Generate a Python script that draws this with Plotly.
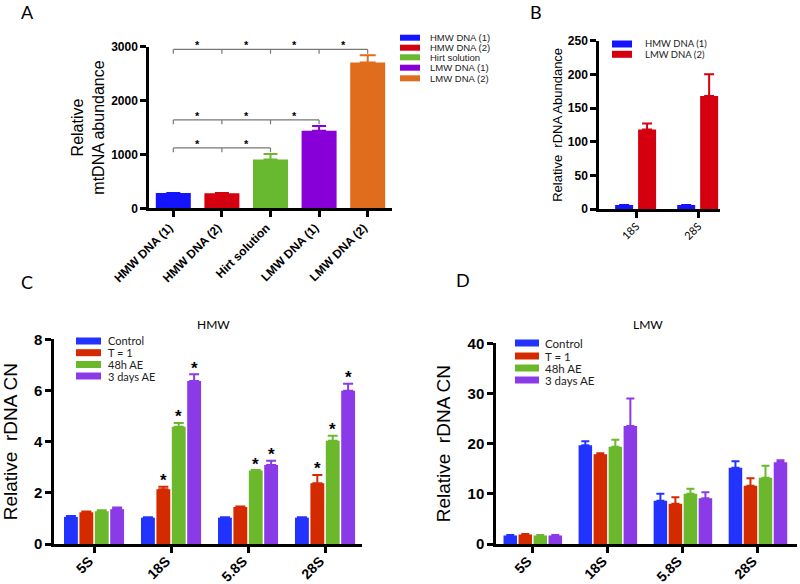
import plotly.graph_objects as go

W, H = 800, 584


def px(x):
    return x / W


def py(y):
    return 1 - y / H


# ---------------- Data ----------------
# Panel A
a_categories = ["HMW DNA (1)", "HMW DNA (2)", "Hirt solution", "LMW DNA (1)", "LMW DNA (2)"]
a_values = [285, 280, 908, 1440, 2708]
a_errors = [0, 5, 100, 87, 135]
a_colors = ["#1414ff", "#d4000f", "#68b830", "#8800d8", "#e06c1e"]
a_bracket_levels = [1120, 1640, 2950]
a_bracket_last = [2, 3, 4]

# Panel B
b_categories = ["18S", "28S"]
b_series = ["HMW DNA (1)", "LMW DNA (2)"]
b_hmw = [6, 6]
b_hmw_err = [0, 0]
b_lmw = [118, 168]
b_lmw_err = [9, 32]
b_colors = ["#1414ff", "#d4000f"]

# Panels C and D
cd_categories = ["5S", "18S", "5.8S", "28S"]
cd_series = ["Control", "T = 1", "48h AE", "3 days AE"]
cd_colors = ["#2233ff", "#d42a00", "#6cb82c", "#8a3ae6"]

c_control = [1.06, 1.03, 1.03, 1.03]
c_control_err = [0.03, 0.02, 0.02, 0.02]
c_t1 = [1.24, 2.14, 1.45, 2.37]
c_t1_err = [0.03, 0.10, 0.02, 0.33]
c_48h = [1.28, 4.58, 2.87, 4.04]
c_48h_err = [0.04, 0.15, 0.02, 0.19]
c_3d = [1.36, 6.37, 3.09, 5.99]
c_3d_err = [0.07, 0.26, 0.16, 0.27]
c_sig_control = [0, 0, 0, 0]
c_sig_t1 = [0, 1, 0, 1]
c_sig_48h = [0, 1, 1, 1]
c_sig_3d = [0, 1, 1, 1]

d_control = [1.7, 19.7, 8.6, 15.2]
d_control_err = [0.1, 0.8, 1.4, 1.3]
d_t1 = [1.9, 17.9, 8.0, 11.6]
d_t1_err = [0.1, 0.2, 1.3, 1.5]
d_48h = [1.7, 19.4, 10.0, 13.2]
d_48h_err = [0.1, 1.4, 1.0, 2.4]
d_3d = [1.7, 23.5, 9.1, 16.3]
d_3d_err = [0.1, 5.5, 1.2, 0.4]

# ---------------- Figure ----------------
fig = go.Figure()

SANS = "Liberation Sans, Arial"
GILL = "Lato, Noto Sans"
BOLD = dict(family=SANS, color="black", weight="bold")


def err(arr, color, width, thick=2):
    return dict(type="data", array=arr, arrayminus=[0] * len(arr), symmetric=False,
                color=color, thickness=thick, width=width, visible=True)


# A : one trace per bar (own colour + own error-bar colour), sharing one offset group
for i, c in enumerate(a_categories):
    fig.add_trace(go.Bar(x=[c], y=[a_values[i]], name=c, offsetgroup="a",
                         marker=dict(color=a_colors[i], line=dict(width=0)), width=0.72,
                         error_y=err([a_errors[i]], a_colors[i], 8 if i == 4 else 7),
                         xaxis="x", yaxis="y", showlegend=False))

# B
fig.add_trace(go.Bar(x=b_categories, y=b_hmw, name=b_series[0], marker=dict(color=b_colors[0], line=dict(width=0)),
                     width=0.29, offset=-0.34, error_y=err(b_hmw_err, b_colors[0], 5),
                     xaxis="x2", yaxis="y2", showlegend=False))
fig.add_trace(go.Bar(x=b_categories, y=b_lmw, name=b_series[1], marker=dict(color=b_colors[1], line=dict(width=0)),
                     width=0.29, offset=0.03, error_y=err(b_lmw_err, b_colors[1], 5),
                     xaxis="x2", yaxis="y2", showlegend=False))

# C
c_vals = [c_control, c_t1, c_48h, c_3d]
c_errs = [c_control_err, c_t1_err, c_48h_err, c_3d_err]
c_sigs = [c_sig_control, c_sig_t1, c_sig_48h, c_sig_3d]
for k in range(4):
    fig.add_trace(go.Bar(x=cd_categories, y=c_vals[k], name=cd_series[k],
                         marker=dict(color=cd_colors[k], line=dict(width=0)), width=0.18,
                         error_y=err(c_errs[k], cd_colors[k], 5),
                         xaxis="x3", yaxis="y3", showlegend=False))

# D
d_vals = [d_control, d_t1, d_48h, d_3d]
d_errs = [d_control_err, d_t1_err, d_48h_err, d_3d_err]
for k in range(4):
    fig.add_trace(go.Bar(x=cd_categories, y=d_vals[k], name=cd_series[k],
                         marker=dict(color=cd_colors[k], line=dict(width=0)), width=0.18,
                         error_y=err(d_errs[k], cd_colors[k], 4),
                         xaxis="x4", yaxis="y4", showlegend=False))


# ---------------- Axes ----------------
def xax(domain, rng, tickfont, anchor, standoff=0, shift=0):
    return dict(domain=domain, range=rng, anchor=anchor, showline=True, linecolor="black", linewidth=2.5,
                ticks="outside", ticklen=6, tickwidth=2.5, tickcolor="black", tickangle=-45,
                tickfont=tickfont, showgrid=False, zeroline=False, fixedrange=True, type="category",
                automargin=False, ticklabelstandoff=standoff, ticklabelshift=shift)


def yax(domain, rng, dtick, tickfont, anchor, title, tsize, standoff, tfamily=SANS):
    return dict(domain=domain, range=rng, anchor=anchor, showline=True, linecolor="black", linewidth=2.5,
                ticks="outside", ticklen=6, tickwidth=2.5, tickcolor="black", dtick=dtick, tick0=0,
                tickfont=tickfont, showgrid=False, zeroline=False, fixedrange=True, automargin=False,
                title=dict(text=title, font=dict(family=tfamily, size=tsize, color="black"), standoff=standoff))


fig.update_layout(
    xaxis=xax([px(149), px(392)], [-0.5, 4.5], dict(BOLD, size=12), "y", -1, -4),
    yaxis=yax([py(208.3), py(46.7)], [0, 3000], 1000, dict(BOLD, size=12), "x",
              "Relative<br>mtDNA abundance", 16, 3),
    xaxis2=xax([px(599), px(720)], [-0.6, 1.35], dict(family=GILL, size=11, color="black"), "y2", -2, 0),
    yaxis2=yax([py(209), py(40.7)], [0, 250], 50, dict(BOLD, size=12), "x2",
               "Relative  rDNA Abundance", 13, 3),
    xaxis3=xax([px(54), px(362)], [-0.52, 3.48], dict(BOLD, size=14), "y3", -5, -5),
    yaxis3=yax([py(544), py(339.3)], [0, 8], 2, dict(BOLD, size=15), "x3",
               "Relative  rDNA CN", 19, 18),
    xaxis4=xax([px(496), px(797)], [-0.49, 3.52], dict(BOLD, size=14), "y4", -5, -5),
    yaxis4=yax([py(544), py(343.3)], [0, 40], 10, dict(BOLD, size=15), "x4",
               "Relative  rDNA CN", 19, 12),
)

shapes = []
annotations = []

# A significance brackets
for lvl, last in zip(a_bracket_levels, a_bracket_last):
    shapes.append(dict(type="line", xref="x", yref="y", x0=0, x1=last, y0=lvl, y1=lvl,
                       line=dict(color="#777777", width=1.2)))
    for j in range(last + 1):
        shapes.append(dict(type="line", xref="x", yref="y", x0=j, x1=j, y0=lvl, y1=lvl - 80,
                           line=dict(color="#777777", width=1.2)))
    for j in range(last):
        annotations.append(dict(x=j + 0.5, y=lvl, xref="x", yref="y", text="*", showarrow=False,
                                font=dict(family=SANS, size=11, color="black", weight="bold"),
                                xanchor="center", yanchor="middle", yshift=4))

# C significance stars
slot = (1 - 0.2) / 4
for k in range(4):
    for i in range(4):
        if c_sigs[k][i]:
            annotations.append(dict(x=i + (k - 1.5) * slot, y=c_vals[k][i] + c_errs[k][i], xref="x3", yref="y3",
                                    text="*", showarrow=False,
                                    font=dict(family=SANS, size=17, color="black", weight="bold"),
                                    xanchor="center", yanchor="middle", yshift=6))


# Manual legends
def legend(names, colors, x0, x1, ys, tx, size, h, family):
    for n, c, y in zip(names, colors, ys):
        shapes.append(dict(type="rect", xref="paper", yref="paper", x0=px(x0), x1=px(x1),
                           y0=py(y + h / 2), y1=py(y - h / 2), fillcolor=c, line=dict(width=0)))
        annotations.append(dict(x=px(tx), y=py(y), xref="paper", yref="paper", text=n, showarrow=False,
                                xanchor="left", yanchor="middle",
                                font=dict(family=family, size=size, color="#222222")))


legend(a_categories, a_colors, 400, 420, [37.7, 47.7, 57.3, 67.7, 78.3], 428, 9.5, 6, SANS)
legend(b_series, b_colors, 612, 632, [44, 54.3], 643, 9.5, 7, GILL)
legend(cd_series, cd_colors, 76, 101, [341, 352.7, 364.5, 376], 106, 11, 7, GILL)
legend(cd_series, cd_colors, 515, 539, [343, 356, 368, 380], 543, 11.5, 7, GILL)

# Subplot titles and panel letters
annotations.append(dict(x=px(213), y=py(324), xref="paper", yref="paper", text="HMW", showarrow=False,
                        xanchor="center", yanchor="middle", font=dict(family=GILL, size=12, color="black")))
annotations.append(dict(x=px(648), y=py(325), xref="paper", yref="paper", text="LMW", showarrow=False,
                        xanchor="center", yanchor="middle", font=dict(family=GILL, size=12, color="black")))
for letter, x, y in [("A", 27, 12), ("B", 536, 12), ("C", 27, 282), ("D", 463, 280)]:
    annotations.append(dict(x=px(x), y=py(y), xref="paper", yref="paper", text=letter, showarrow=False,
                            xanchor="center", yanchor="middle",
                            font=dict(family=GILL, size=18, color="black")))

fig.update_layout(
    width=W, height=H, margin=dict(l=0, r=0, t=0, b=0, autoexpand=False),
    paper_bgcolor="white", plot_bgcolor="white",
    barmode="group", bargap=0.2, bargroupgap=0,
    shapes=shapes, annotations=annotations, showlegend=False,
    font=dict(family=SANS, color="black"),
)

fig.write_html("out.html", config={"displayModeBar": False},
               post_script="document.body.style.margin='0px';")
